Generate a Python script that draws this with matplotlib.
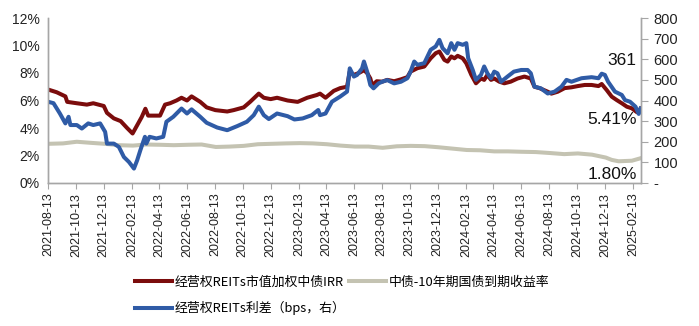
import pandas as pd
import matplotlib
matplotlib.use('Agg')
import matplotlib.pyplot as plt
import matplotlib.dates as mdates
from matplotlib.ticker import FuncFormatter, MultipleLocator

plt.rcParams['font.family'] = ['Liberation Sans', 'Noto Sans CJK SC', 'DejaVu Sans']

# 经营权REITs市值加权中债IRR (%)
irr_dates = ['2021-08-13', '2021-09-01', '2021-09-20', '2021-09-24', '2021-10-15', '2021-11-06',
             '2021-11-20', '2021-12-13', '2021-12-20', '2022-01-04', '2022-01-19', '2022-02-02',
             '2022-02-14', '2022-02-24', '2022-03-06', '2022-03-14', '2022-03-20', '2022-03-31',
             '2022-04-15', '2022-04-26', '2022-05-07', '2022-05-21', '2022-06-01', '2022-06-13',
             '2022-06-23', '2022-07-12', '2022-07-26', '2022-08-14', '2022-09-09', '2022-09-23',
             '2022-10-15', '2022-10-29', '2022-11-17', '2022-11-28', '2022-12-13', '2022-12-27',
             '2023-01-19', '2023-02-10', '2023-03-03', '2023-03-24', '2023-03-31', '2023-04-12',
             '2023-04-30', '2023-05-14', '2023-05-29', '2023-06-04', '2023-06-13', '2023-06-24',
             '2023-07-05', '2023-07-12', '2023-07-19', '2023-07-23', '2023-08-02', '2023-08-14',
             '2023-08-25', '2023-09-09', '2023-09-24', '2023-10-08', '2023-10-15', '2023-10-30',
             '2023-11-14', '2023-11-28', '2023-12-09', '2023-12-17', '2023-12-28', '2024-01-04',
             '2024-01-12', '2024-01-19', '2024-01-26', '2024-02-06', '2024-02-14', '2024-02-25',
             '2024-03-06', '2024-03-17', '2024-03-24', '2024-03-31', '2024-04-08', '2024-04-15',
             '2024-04-26', '2024-05-07', '2024-05-21', '2024-06-05', '2024-06-20', '2024-07-04',
             '2024-07-12', '2024-07-23', '2024-08-10', '2024-08-18', '2024-09-01', '2024-09-16',
             '2024-10-01', '2024-10-15', '2024-10-30', '2024-11-14', '2024-11-29', '2024-12-06',
             '2024-12-17', '2024-12-28', '2025-01-08', '2025-01-19', '2025-01-30', '2025-02-10',
             '2025-02-21', '2025-02-26', '2025-03-01']
irr_vals = [6.8, 6.6, 6.3, 5.9, 5.8, 5.7,
            5.8, 5.6, 5.1, 4.7, 4.5, 4.0,
            3.6, 4.2, 4.8, 5.4, 4.9, 4.9,
            4.9, 5.7, 5.8, 6.0, 6.2, 6.0,
            6.3, 5.9, 5.5, 5.3, 5.2, 5.3,
            5.5, 5.9, 6.5, 6.2, 6.1, 6.2,
            6.0, 5.9, 6.2, 6.4, 6.5, 6.2,
            6.7, 6.9, 7.0, 8.1, 7.86, 8.0,
            8.2, 8.0, 7.6, 7.1, 7.4, 7.37,
            7.5, 7.4, 7.54, 7.7, 8.1, 8.35,
            8.47, 9.07, 9.44, 9.56, 8.95, 8.83,
            9.2, 9.07, 9.25, 9.07, 8.7, 7.86,
            7.25, 7.6, 7.5, 7.86, 7.5, 7.6,
            7.37, 7.25, 7.37, 7.6, 7.74, 7.6,
            7.0, 6.9, 6.64, 6.5, 6.64, 6.9,
            6.96, 7.05, 7.13, 7.13, 7.05, 7.2,
            6.76, 6.28, 6.03, 5.8, 5.55, 5.43,
            5.15, 5.25, 5.41]

# 中债-10年期国债到期收益率 (%)
bond_dates = ['2021-08-13', '2021-09-15', '2021-10-15', '2021-11-15', '2021-12-15', '2022-01-15',
              '2022-02-15', '2022-03-15', '2022-04-15', '2022-05-15', '2022-06-15', '2022-07-15',
              '2022-08-15', '2022-09-15', '2022-10-15', '2022-11-15', '2022-12-15', '2023-01-15',
              '2023-02-15', '2023-03-15', '2023-04-15', '2023-05-15', '2023-06-15', '2023-07-15',
              '2023-08-15', '2023-09-15', '2023-10-15', '2023-11-15', '2023-12-15', '2024-01-15',
              '2024-02-15', '2024-03-15', '2024-04-15', '2024-05-15', '2024-06-15', '2024-07-15',
              '2024-08-15', '2024-09-15', '2024-10-15', '2024-11-15', '2024-12-15', '2024-12-28',
              '2025-01-12', '2025-02-10', '2025-03-01']
bond_vals = [2.85, 2.88, 3.0, 2.92, 2.85, 2.75,
             2.72, 2.8, 2.78, 2.75, 2.78, 2.8,
             2.62, 2.65, 2.7, 2.82, 2.85, 2.88,
             2.9, 2.88, 2.82, 2.72, 2.65, 2.65,
             2.56, 2.67, 2.7, 2.68, 2.6, 2.5,
             2.4, 2.38, 2.3, 2.3, 2.27, 2.25,
             2.18, 2.1, 2.15, 2.06, 1.85, 1.68,
             1.58, 1.62, 1.80]

# 经营权REITs利差 (bps)
spread_dates = ['2021-08-13', '2021-08-25', '2021-09-08', '2021-09-20', '2021-09-27', '2021-10-01',
                '2021-10-15', '2021-10-26', '2021-11-09', '2021-11-20', '2021-12-05', '2021-12-16',
                '2021-12-20', '2022-01-04', '2022-01-15', '2022-01-26', '2022-02-06', '2022-02-17',
                '2022-02-24', '2022-03-03', '2022-03-13', '2022-03-16', '2022-03-23', '2022-04-07',
                '2022-04-22', '2022-04-29', '2022-05-14', '2022-06-01', '2022-06-13', '2022-06-23',
                '2022-07-12', '2022-07-26', '2022-08-18', '2022-09-09', '2022-10-01', '2022-10-22',
                '2022-11-06', '2022-11-17', '2022-11-28', '2022-12-09', '2022-12-27', '2023-01-19',
                '2023-02-03', '2023-02-21', '2023-03-13', '2023-03-27', '2023-03-31', '2023-04-12',
                '2023-04-26', '2023-05-14', '2023-05-29', '2023-06-04', '2023-06-13', '2023-06-20',
                '2023-07-01', '2023-07-05', '2023-07-12', '2023-07-19', '2023-07-26', '2023-08-06',
                '2023-08-14', '2023-08-25', '2023-09-09', '2023-09-24', '2023-10-08', '2023-10-15',
                '2023-10-23', '2023-10-30', '2023-11-14', '2023-11-28', '2023-12-09', '2023-12-17',
                '2023-12-24', '2024-01-04', '2024-01-12', '2024-01-19', '2024-01-26', '2024-02-06',
                '2024-02-14', '2024-02-18', '2024-02-28', '2024-03-06', '2024-03-17', '2024-03-24',
                '2024-03-31', '2024-04-08', '2024-04-15', '2024-04-22', '2024-04-30', '2024-05-14',
                '2024-05-28', '2024-06-13', '2024-06-27', '2024-07-04', '2024-07-12', '2024-07-26',
                '2024-08-10', '2024-08-25', '2024-09-09', '2024-09-20', '2024-10-01', '2024-10-23',
                '2024-11-14', '2024-11-29', '2024-12-06', '2024-12-13', '2024-12-20', '2025-01-04',
                '2025-01-19', '2025-01-26', '2025-02-06', '2025-02-18', '2025-02-25', '2025-03-01']
spread_vals = [394, 387, 337, 289, 321, 281,
               281, 264, 289, 281, 289, 248,
               191, 191, 175, 126, 102, 70,
               110, 159, 224, 191, 224, 216,
               224, 297, 321, 361, 337, 357,
               321, 292, 269, 256, 276, 297,
               329, 370, 329, 310, 337, 324,
               308, 313, 329, 354, 329, 337,
               394, 419, 443, 556, 516, 524,
               556, 589, 540, 475, 459, 483,
               491, 499, 483, 491, 508, 540,
               589, 573, 581, 646, 662, 694,
               654, 629, 678, 646, 678, 670,
               678, 605, 548, 500, 524, 565,
               532, 508, 540, 532, 491, 516,
               540, 548, 548, 532, 467, 459,
               434, 443, 467, 500, 491, 508,
               513, 508, 530, 524, 491, 443,
               427, 402, 394, 370, 335, 361]

tick_dates = pd.date_range('2021-08-13', periods=22, freq=pd.DateOffset(months=2))

c_irr = '#7B0C0C'
c_bond = '#C4C3B2'
c_spread = '#2F5BA6'
axis_c = '#A6A6A6'

fig = plt.figure(figsize=(6.99, 3.26), dpi=100)
ax = fig.add_axes([48/699, 1-183/326, (641-48)/699, 165/326])
ax2 = ax.twinx()

l1, = ax.plot(pd.to_datetime(irr_dates), irr_vals, color=c_irr, lw=2.9, solid_joinstyle='round')
l2, = ax.plot(pd.to_datetime(bond_dates), bond_vals, color=c_bond, lw=2.9, solid_joinstyle='round')
l3, = ax2.plot(pd.to_datetime(spread_dates), spread_vals, color=c_spread, lw=2.9, solid_joinstyle='round')

ax.set_xlim(pd.Timestamp('2021-08-13'), pd.Timestamp('2025-03-02'))
ax.set_ylim(0, 12)
ax2.set_ylim(0, 800)
ax.yaxis.set_major_locator(MultipleLocator(2))
ax.yaxis.set_major_formatter(FuncFormatter(lambda v, p: f'{v:.0f}%'))
ax2.yaxis.set_major_locator(MultipleLocator(100))
ax2.yaxis.set_major_formatter(FuncFormatter(lambda v, p: '-' if v == 0 else f'{v:.0f}'))

ax.set_xticks(tick_dates)
ax.xaxis.set_major_formatter(mdates.DateFormatter('%Y-%m-%d'))
plt.setp(ax.get_xticklabels(), rotation=90, fontsize=9, color='#222222')
ax.tick_params(axis='x', length=4, color=axis_c, pad=3)
ax.tick_params(axis='y', length=0, labelsize=10, pad=6, colors='#222222')
ax2.tick_params(axis='y', length=5, color=axis_c, labelsize=10.5, pad=4, labelcolor='#222222')

for a in (ax, ax2):
    a.spines['top'].set_visible(False)
    for s in ('left', 'right', 'bottom'):
        a.spines[s].set_color(axis_c)
        a.spines[s].set_linewidth(1)

ax.text(0.993, 0.745, f'{spread_vals[-1]:.0f}', transform=ax.transAxes, ha='right', va='center', fontsize=12.5, color='#111111')
ax.text(0.993, 0.385, f'{irr_vals[-1]:.2f}%', transform=ax.transAxes, ha='right', va='center', fontsize=12.5, color='#111111')
ax.text(0.993, 0.05, f'{bond_vals[-1]:.2f}%', transform=ax.transAxes, ha='right', va='center', fontsize=12.5, color='#111111')

fig.legend([l1, l3, l2],
           ['经营权REITs市值加权中债IRR', '经营权REITs利差（bps，右）', '中债-10年期国债到期收益率'],
           ncol=2, loc='upper left', bbox_to_anchor=(135/699, 1-276/326),
           frameon=False, prop={'family': ['Noto Sans CJK SC'], 'size': 9.3},
           handlelength=2.9, handletextpad=0.2,
           columnspacing=0.2, labelspacing=0.95, borderpad=0, borderaxespad=0)

fig.savefig('out.png', dpi=100)
